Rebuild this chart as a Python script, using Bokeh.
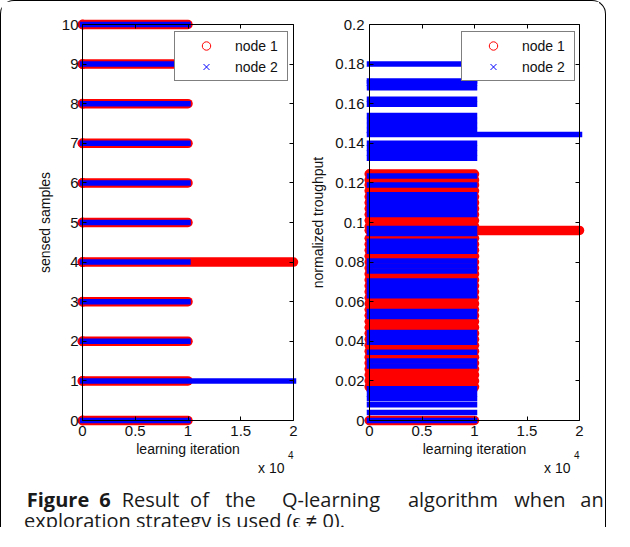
from bokeh.plotting import figure
from bokeh.models import (ColumnDataSource, Range1d, LinearAxis, FixedTicker,
                          Legend, LegendItem)
from bokeh.layouts import row, column
from bokeh.embed import file_html
from bokeh.resources import INLINE
from bokeh.core.properties import value

# ---------------- data ----------------
explore_end = 10000          # exploration phase ends (iteration)
run_end = 20000              # last learning iteration

x_ticks = [0, 5000, 10000, 15000, 20000]
x_tick_labels = ["0", "0.5", "1", "1.5", "2"]

# left panel: sensed samples
samples_levels_node1 = [0, 1, 2, 3, 4, 5, 6, 7, 8, 9, 10]
samples_levels_node2 = [0, 1, 2, 3, 4, 5, 6, 7, 8, 9, 10]
samples_final_node1 = 4
samples_final_node2 = 1
samples_ticks = [0, 1, 2, 3, 4, 5, 6, 7, 8, 9, 10]
samples_tick_labels = ["0", "1", "2", "3", "4", "5", "6", "7", "8", "9", "10"]

# right panel: normalized throughput
thr_levels_node1 = [0.0, 0.017, 0.02, 0.023, 0.026, 0.029, 0.032, 0.035, 0.038,
                    0.041, 0.044, 0.047, 0.05, 0.053, 0.056, 0.059, 0.062, 0.065,
                    0.068, 0.071, 0.074, 0.077, 0.08, 0.083, 0.086, 0.089, 0.092,
                    0.096, 0.098, 0.101, 0.104, 0.107, 0.11, 0.113, 0.116, 0.119,
                    0.1215, 0.1245]
thr_levels_node2 = [0.0, 0.004, 0.008, 0.011, 0.0135, 0.016, 0.0275, 0.03, 0.0345,
                    0.0395, 0.042, 0.0445, 0.0525, 0.055, 0.063, 0.0655, 0.068,
                    0.0705, 0.0755, 0.078, 0.0805, 0.0855, 0.088, 0.0905, 0.0945,
                    0.097, 0.104, 0.1065, 0.109, 0.1115, 0.114, 0.119, 0.1235,
                    0.1325, 0.135, 0.1375, 0.14, 0.1444, 0.1465, 0.149, 0.1515,
                    0.154, 0.1597, 0.1622, 0.168, 0.1705, 0.1715, 0.18]
thr_final_node1 = 0.096
thr_final_node2 = 0.1444
thr_ticks = [0, 0.02, 0.04, 0.06, 0.08, 0.1, 0.12, 0.14, 0.16, 0.18, 0.2]
thr_tick_labels = ["0", "0.02", "0.04", "0.06", "0.08", "0.1", "0.12", "0.14",
                   "0.16", "0.18", "0.2"]

series_names = ["node 1", "node 2"]
x_label = "learning iteration"
y_label_left = "sensed samples"
y_label_right = "normalized troughput"
exponent_text = "x 10"
exponent_power = "4"

caption_bold = ["Figure", "6"]
caption_line1 = ["Result", "of", "the", "Q-learning", "algorithm", "when", "an"]
caption_line2 = "exploration strategy is used (\u03f5 \u2260 0)."

RED = "#ff0000"
BLUE = "#0000ff"
FONT = "Liberation Sans"
INK = "#111111"

# ---------------- geometry (pixels) ----------------
PLOT_H = 478
MB_TOP = 23
FRAME_H = 396
MB_BOTTOM = PLOT_H - MB_TOP - FRAME_H
CAP_W = 604
CAP_H = 48


def bands(p, levels, final, color, width, cap):
    x1 = [run_end if lv == final else explore_end for lv in levels]
    src = ColumnDataSource(dict(x0=[0] * len(levels), x1=x1, y=levels))
    r = p.segment(x0="x0", y0="y", x1="x1", y1="y", source=src,
                  line_color=color, line_width=width, line_cap=cap)
    r.level = "guide"
    return r


def starts(p, levels, marker, size, color):
    r = p.scatter(x=[0] * len(levels), y=levels, marker=marker, size=size,
                  fill_color=None, line_color=color, line_width=1)
    r.level = "guide"
    return r


def style_axis(ax, show_labels=True):
    ax.major_tick_in = 4
    ax.major_tick_out = 0
    ax.minor_tick_in = 0
    ax.minor_tick_out = 0
    ax.axis_line_color = "black"
    ax.axis_line_width = 1
    ax.major_tick_line_color = "black"
    ax.major_label_text_font = FONT
    ax.major_label_text_color = INK
    ax.axis_label_text_font = FONT
    ax.axis_label_text_font_size = "14px"
    ax.axis_label_text_font_style = "normal"
    ax.axis_label_text_color = INK
    ax.level = "overlay"
    if show_labels:
        ax.major_label_text_font_size = "15px"
    else:
        ax.major_label_text_font_size = "0px"
        ax.major_label_text_color = None
        ax.major_label_standoff = 0


def make_panel(width, mbl, frame_w, y_end, yticks, ylabels, ylabel, ystand, ylabstand,
               lv1, fin1, lv2, fin2):
    mbr = width - mbl - frame_w
    p = figure(width=width, height=PLOT_H, x_range=Range1d(0, run_end),
               y_range=Range1d(0, y_end), output_backend="svg",
               toolbar_location=None, x_axis_type=None, y_axis_type=None,
               min_border_left=mbl, min_border_right=mbr,
               min_border_top=MB_TOP, min_border_bottom=MB_BOTTOM)
    p.outline_line_color = None
    p.background_fill_color = "white"
    p.border_fill_color = "white"

    xb = LinearAxis(ticker=FixedTicker(ticks=x_ticks),
                    major_label_overrides=dict(zip(x_ticks, x_tick_labels)),
                    axis_label=x_label)
    style_axis(xb)
    xb.major_label_standoff = 5
    xb.axis_label_standoff = 2
    p.add_layout(xb, "below")

    xt = LinearAxis(ticker=FixedTicker(ticks=x_ticks))
    style_axis(xt, False)
    p.add_layout(xt, "above")

    yl = LinearAxis(ticker=FixedTicker(ticks=yticks),
                    major_label_overrides=dict(zip(yticks, ylabels)),
                    axis_label=ylabel)
    style_axis(yl)
    yl.major_label_standoff = ystand
    yl.axis_label_standoff = ylabstand
    p.add_layout(yl, "left")

    yr = LinearAxis(ticker=FixedTicker(ticks=yticks))
    style_axis(yr, False)
    p.add_layout(yr, "right")

    bands(p, lv1, fin1, RED, 9.5, "round")
    r1 = starts(p, lv1, "circle", 9, RED)
    bands(p, lv2, fin2, BLUE, 5.5, "square")
    r2 = starts(p, lv2, "x", 6, BLUE)

    leg = Legend(items=[LegendItem(label=series_names[0], renderers=[r1]),
                        LegendItem(label=series_names[1], renderers=[r2])],
                 location=(92, 339))
    leg.padding = 3
    leg.spacing = 0
    leg.glyph_width = 56
    leg.glyph_height = 21
    leg.label_height = 21
    leg.label_width = 49
    leg.label_standoff = 1
    leg.label_text_font = FONT
    leg.label_text_font_size = "14px"
    leg.label_text_color = INK
    leg.border_line_color = "black"
    leg.border_line_width = 1
    leg.background_fill_color = "white"
    leg.background_fill_alpha = 1
    leg.margin = 0
    p.add_layout(leg)

    # MATLAB-style axis exponent "x 10^4" under the right end of the x axis
    t1 = p.text(x=[run_end], y=[0], text=[exponent_text], x_offset=-9, y_offset=47,
                text_align="right", text_baseline="alphabetic",
                text_font=value(FONT), text_font_size="14px", text_color=INK)
    t1.level = "guide"
    t2 = p.text(x=[run_end], y=[0], text=[exponent_power], x_offset=0, y_offset=34,
                text_align="right", text_baseline="alphabetic",
                text_font=value(FONT), text_font_size="10px", text_color=INK)
    t2.level = "guide"
    return p


p1 = make_panel(302, 81, 211, 10, samples_ticks, samples_tick_labels, y_label_left, 4, 6,
                samples_levels_node1, samples_final_node1,
                samples_levels_node2, samples_final_node2)
p2 = make_panel(296, 66, 210, 0.2, thr_ticks, thr_tick_labels, y_label_right, 5, 6,
                thr_levels_node1, thr_final_node1,
                thr_levels_node2, thr_final_node2)

cap = figure(width=CAP_W, height=CAP_H, x_range=Range1d(0, CAP_W), y_range=Range1d(0, CAP_H),
             output_backend="svg", toolbar_location=None, min_border=0,
             x_axis_type=None, y_axis_type=None)
cap.outline_line_color = None
cap.background_fill_color = "white"
cap.border_fill_color = "white"

cap.text(x=[56.5, 103.5], y=[28, 28], text=caption_bold,
         text_font=value("Open Sans"), text_font_style="bold", text_align="center",
         text_font_size="20px", text_baseline="alphabetic", text_color="#1a1a1a")
cap.text(x=[149, 198, 239, 329.5, 451.5, 538.5, 590.5],
         y=[28] * 7, text=caption_line1, text_align="center",
         text_font=value("Open Sans"), text_font_size="20px",
         text_baseline="alphabetic", text_color="#1a1a1a")
cap.text(x=[22.5], y=[7.5], text=[caption_line2],
         text_font=value("Open Sans"), text_font_size="20px",
         text_baseline="alphabetic", text_color="#1a1a1a")

layout = column(row(p1, p2), cap,
                styles={"border-top": "1.5px solid #000",
                        "border-left": "1.5px solid #000",
                        "border-right": "1.5px solid #000",
                        "border-radius": "14px 14px 0 0"})

open("out.html", "w").write(file_html(layout, INLINE))
